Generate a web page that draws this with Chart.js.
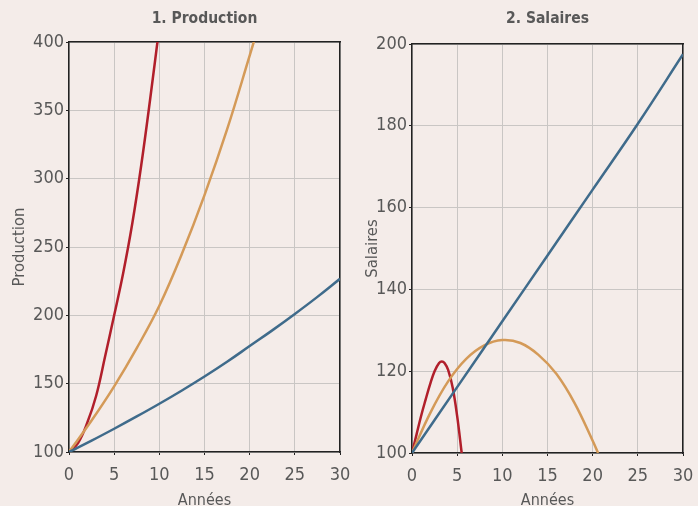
<!DOCTYPE html>
<html><head><meta charset="utf-8">
<script src="https://cdn.jsdelivr.net/npm/chart.js@4.4.0/dist/chart.umd.min.js"></script>
<style>
html,body{margin:0;padding:0;background:#f4ece9;}
#wrap{position:relative;width:698px;height:506px;overflow:hidden;background:#f4ece9;}
canvas{display:block;position:absolute;top:0;}
#c1{left:0;z-index:2;}
#c2{left:349px;z-index:1;}
</style></head><body>
<div id="wrap">
  <canvas id="c1" width="360" height="506"></canvas>
  <canvas id="c2" width="349" height="506"></canvas>
</div>
<script>
// ---------- DATA ----------
const title1 = "1. Production";
const title2 = "2. Salaires";
const xTitle = "Années";
const yTitle1 = "Production";
const yTitle2 = "Salaires";

// Chart 1 : Production
const prodBlueYears   = [0, 2.5, 5, 7.5, 10, 12.5, 15, 17.5, 20, 22.5, 25, 27.5, 30];
const prodBlue        = [100, 108.3, 117, 126, 135.3, 145, 155.2, 166, 177.5, 189, 201, 213.5, 226.7];
const prodOrangeYears = [0, 2.5, 5, 7.5, 10, 12.5, 15, 17.5, 20, 21];
const prodOrange      = [100, 123, 148, 176, 207, 245, 288, 336, 390, 412];
const prodRedYears    = [0, 1, 2, 3, 4, 5, 6, 7, 8, 9, 10];
const prodRed         = [100, 106.5, 121, 141, 170, 200, 231, 267, 310, 359, 411];

// Chart 2 : Salaires
const salBlueYears   = [0, 5, 10, 15, 20, 25, 30];
const salBlue        = [100, 116.1, 132.2, 148.3, 164.4, 180.5, 197.5];
const salOrangeYears = [0, 2, 4, 6, 8, 10, 12, 14, 16, 18, 20, 20.6];
const salOrange      = [100, 109.7, 117.5, 123, 126.3, 127.6, 126.9, 124, 119.3, 112.2, 103, 100];
const salRedYears    = [0, 0.5, 1, 1.5, 2, 2.5, 3, 3.3, 3.6, 4, 4.5, 5, 5.5];
const salRed         = [100, 104.5, 109, 113, 116.8, 120, 122, 122.4, 122, 120.3, 116, 109, 100];

const xTicks = [0, 5, 10, 15, 20, 25, 30];

// ---------- STYLE ----------
const FONT = '"DejaVu Sans Condensed", "Liberation Sans Narrow", sans-serif';
const TXT = '#585858';
const GRID = '#c9c6c4';
const AXIS = '#222222';
const BLUE = '#3f6b8b';
const ORANGE = '#d49a58';
const RED = '#b11f2b';

function pts(xs, ys){ return xs.map((x,i)=>({x:x, y:ys[i]})); }

function ds(xs, ys, color){
  return {data: pts(xs, ys), borderColor: color, backgroundColor: color, borderWidth: 2.5,
    pointRadius: 0, fill: false, tension: 0.4};
}

function makeChart(id, datasets, ymin, ymax, ystep, title, ytitle, geom){
  return new Chart(document.getElementById(id), {
    type: 'line',
    data: {datasets: datasets},
    options: {
      responsive: false, animation: false, devicePixelRatio: 1,
      layout: {padding: 0, autoPadding: false},
      plugins: {legend: {display: false}, tooltip: {enabled: false}, title: {display: false}},
      scales: {
        x: {type: 'linear', position: 'bottom', min: 0, max: 30,
          afterBuildTicks: s => { s.ticks = xTicks.map(v => ({value: v})); },
          ticks: {color: TXT, font: {family: FONT, size: 18}, padding: 10, maxRotation: 0},
          grid: {color: GRID, lineWidth: 1, tickColor: AXIS, tickLength: 3},
          border: {color: AXIS, width: 1.5},
          title: {display: true, text: xTitle, color: TXT, font: {family: FONT, size: 16}, padding: {top: 0, bottom: -4.5}},
          afterFit: s => { s.height = geom.bottom; s.paddingLeft = 0; s.paddingRight = 0; }
        },
        x2: {type: 'linear', position: 'top', min: 0, max: 30,
          ticks: {display: false}, grid: {display: false, drawTicks: false},
          border: {color: AXIS, width: 1.5},
          title: {display: true, text: title, color: TXT, font: {family: FONT, size: 15.5, weight: 'bold'}, padding: {top: 10, bottom: 0}},
          afterFit: s => { s.height = geom.top; s.paddingLeft = 0; s.paddingRight = 0; }
        },
        y: {type: 'linear', position: 'left', min: ymin, max: ymax,
          ticks: {stepSize: ystep, color: TXT, font: {family: FONT, size: 18}, padding: 2},
          grid: {color: GRID, lineWidth: 1, tickColor: AXIS, tickLength: 3},
          border: {color: AXIS, width: 1.5},
          title: {display: true, text: ytitle, color: TXT, font: {family: FONT, size: 16.5}, padding: {top: geom.ytPad, bottom: 0}},
          afterFit: s => { s.width = geom.left; s.paddingTop = 0; s.paddingBottom = 0; }
        },
        y2: {type: 'linear', position: 'right', min: ymin, max: ymax,
          ticks: {display: false}, grid: {display: false, drawTicks: false},
          border: {color: AXIS, width: 1.5},
          afterFit: s => { s.width = geom.right; s.paddingTop = 0; s.paddingBottom = 0; }
        }
      }
    }
  });
}

makeChart('c1', [
  ds(prodBlueYears, prodBlue, BLUE),
  ds(prodOrangeYears, prodOrange, ORANGE),
  ds(prodRedYears, prodRed, RED)
], 100, 400, 50, title1, yTitle1, {left: 69, right: 20, top: 42, bottom: 54, ytPad: 10});

makeChart('c2', [
  ds(salBlueYears, salBlue, BLUE),
  ds(salOrangeYears, salOrange, ORANGE),
  ds(salRedYears, salRed, RED)
], 100, 200, 20, title2, yTitle2, {left: 63, right: 15, top: 44, bottom: 53, ytPad: 14});
</script>
</body></html>
